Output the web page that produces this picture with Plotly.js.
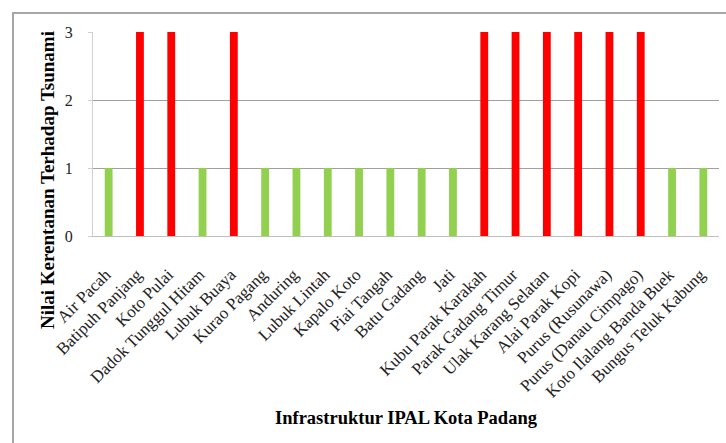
<!DOCTYPE html>
<html>
<head>
<meta charset="utf-8">
<script src="https://cdn.plot.ly/plotly-3.0.1.min.js"></script>
<style>
html,body{margin:0;padding:0;background:#fff;}
#wrap{position:relative;width:726px;height:443px;overflow:hidden;}
#frame{position:absolute;left:12px;top:12px;width:800px;height:500px;border:2px solid #a6a6a6;box-sizing:border-box;z-index:2;pointer-events:none;}
#chart{position:absolute;left:0;top:0;width:726px;height:443px;}
</style>
</head>
<body>
<div id="wrap"><div id="chart"></div><div id="frame"></div></div>
<script>
const categories = ["Air Pacah","Batipuh Panjang","Koto Pulai","Dadok Tunggul Hitam","Lubuk Buaya","Kurao Pagang","Anduring","Lubuk Lintah","Kapalo Koto","Piai Tangah","Batu Gadang","Jati","Kubu Parak Karakah","Parak Gadang Timur","Ulak Karang Selatan","Alai Parak Kopi","Purus (Rusunawa)","Purus (Danau Cimpago)","Koto Ilalang Banda Buek","Bungus Teluk Kabung"];
const values = [1,3,3,1,3,1,1,1,1,1,1,1,3,3,3,3,3,3,1,1];
const yTicks = [0,1,2,3];
const yTitle = "Nilai Kerentanan Terhadap Tsunami";
const xTitle = "Infrastruktur IPAL Kota Padang";

const colors = values.map(v => v >= 3 ? "#ff0000" : "#92d050");
const serif = "'Liberation Serif', 'Times New Roman', serif";

Plotly.newPlot("chart", [{
  type: "bar",
  x: categories,
  y: values,
  width: 0.25,
  marker: {color: colors, line: {width: 0}},
  hoverinfo: "x+y"
}], {
  width: 726, height: 443,
  margin: {l: 93, r: 7, t: 32, b: 207},
  paper_bgcolor: "#fff", plot_bgcolor: "#fff",
  showlegend: false,
  font: {family: serif, color: "#000", size: 16},
  xaxis: {
    type: "category",
    tickangle: -45,
    tickfont: {family: serif, size: 17, color: "#222"},
    ticklabelstandoff: 21,
    ticklabelshift: -3,
    showgrid: false,
    showline: true, linecolor: "#bfbfbf", linewidth: 1,
    ticks: "", automargin: false
  },
  yaxis: {
    range: [0, 3],
    tickvals: yTicks,
    ticktext: yTicks.map(String),
    tickfont: {family: serif, size: 16, color: "#222"},
    showgrid: true, gridcolor: "#a0a0a0", gridwidth: 1,
    showline: true, linecolor: "#d0d0d0", linewidth: 1,
    ticks: "outside", ticklen: 4, tickcolor: "#d0d0d0",
    ticklabelstandoff: 12,
    zeroline: false, automargin: false
  },
  annotations: [
    {text: "<b>" + yTitle + "</b>", textangle: -90, xref: "paper", yref: "paper",
     x: (47 - 93) / 626, y: (443 - 207 - 180) / 204, xanchor: "center", yanchor: "middle",
     showarrow: false, font: {family: serif, size: 19, color: "#000"}},
    {text: "<b>" + xTitle + "</b>", xref: "paper", yref: "paper",
     x: 0.5, y: -(418 - 236) / 204, xanchor: "center", yanchor: "middle",
     showarrow: false, font: {family: serif, size: 18.5, color: "#000"}}
  ]
}, {displayModeBar: false, staticPlot: true});
</script>
</body>
</html>
